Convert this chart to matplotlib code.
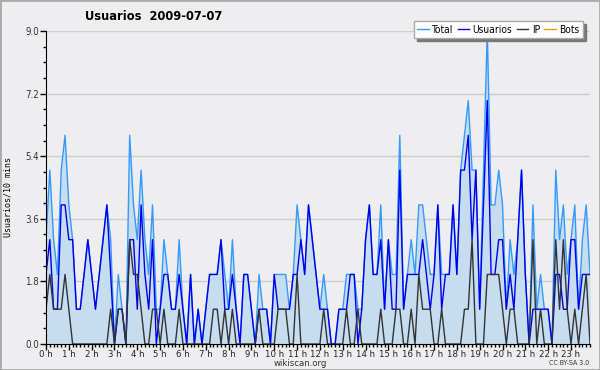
import numpy as np
import matplotlib.pyplot as plt
from matplotlib.patches import Rectangle
from matplotlib.ticker import MultipleLocator

plt.rcParams['font.family'] = 'DejaVu Sans'
plt.rcParams['font.stretch'] = 'condensed'

# valores cada 10 minutos (144 puntos)
total = [3, 5, 3, 2, 5, 6, 4, 3, 1, 1, 2, 3, 2, 1, 2, 3, 4, 3, 0, 2, 1, 0, 6, 4,
         3, 5, 3, 2, 4, 1, 1, 3, 2, 1, 1, 3, 1, 0, 2, 0, 1, 0, 1, 2, 2, 2, 3, 2,
         1, 3, 1, 0, 2, 2, 1, 0, 2, 1, 1, 0, 2, 2, 2, 2, 1, 2, 4, 3, 2, 4, 3, 2,
         1, 2, 1, 0, 0, 1, 1, 2, 2, 2, 1, 1, 3, 4, 2, 2, 4, 1, 3, 2, 2, 6, 1, 2,
         3, 2, 4, 4, 3, 2, 2, 4, 2, 2, 2, 4, 2, 5, 6, 7, 5, 5, 1, 5, 9, 4, 4, 5,
         4, 1, 3, 2, 3, 5, 2, 0, 4, 1, 2, 1, 1, 0, 5, 3, 4, 2, 3, 4, 1, 3, 4, 2]
usuarios = [2, 3, 1, 1, 4, 4, 3, 3, 1, 1, 2, 3, 2, 1, 2, 3, 4, 2, 0, 1, 1, 0, 3, 3,
            1, 4, 2, 1, 3, 0, 1, 2, 2, 1, 1, 2, 1, 0, 2, 0, 1, 0, 1, 2, 2, 2, 3, 1,
            1, 2, 1, 0, 2, 2, 1, 0, 1, 1, 1, 0, 2, 1, 1, 1, 1, 2, 2, 3, 2, 4, 3, 2,
            1, 1, 1, 0, 0, 1, 1, 1, 2, 2, 0, 1, 3, 4, 2, 2, 3, 1, 3, 1, 1, 5, 1, 2,
            2, 2, 2, 3, 2, 1, 2, 4, 1, 2, 2, 4, 2, 5, 5, 6, 3, 5, 1, 4, 7, 2, 2, 3,
            3, 1, 2, 1, 3, 5, 2, 0, 1, 1, 1, 1, 1, 0, 2, 2, 1, 1, 3, 3, 1, 2, 2, 2]
ip = [1, 2, 1, 1, 1, 2, 1, 0, 0, 0, 0, 0, 0, 0, 0, 0, 0, 1, 0, 1, 1, 0, 3, 2,
      2, 1, 0, 0, 1, 1, 0, 1, 0, 0, 0, 1, 0, 0, 0, 0, 0, 0, 0, 0, 1, 1, 0, 1,
      0, 1, 0, 0, 0, 0, 0, 0, 1, 0, 0, 0, 0, 1, 1, 1, 0, 0, 2, 0, 0, 0, 0, 0,
      0, 1, 0, 0, 0, 0, 0, 1, 0, 0, 1, 0, 0, 0, 0, 0, 1, 0, 0, 0, 1, 1, 0, 0,
      1, 0, 2, 1, 1, 1, 0, 0, 1, 0, 0, 0, 0, 0, 1, 1, 3, 0, 0, 0, 2, 2, 2, 2,
      1, 0, 1, 1, 0, 0, 0, 0, 3, 0, 1, 0, 0, 0, 3, 1, 3, 1, 0, 1, 0, 1, 2, 0]
bots = [0] * 144
hour_labels = ["%d h" % h for h in range(24)]
y_ticks = [0.0, 1.8, 3.6, 5.4, 7.2, 9.0]

bg = '#eeeef0'
x = np.arange(len(total)) / 6.0

fig = plt.figure(figsize=(6, 3.7), dpi=100, facecolor=bg)
ax = fig.add_axes([46 / 600, 26 / 370, 544 / 600, 313 / 370], facecolor=bg)

ax.fill_between(x, total, color='#c6dcef', lw=0, zorder=1)
ax.plot(x, bots, color='#ff9900', lw=1, zorder=0.5)
l_total, = ax.plot(x, total, color='#3399ff', lw=1, zorder=2, label='Total')
l_usu, = ax.plot(x, usuarios, color='#0000ee', lw=1, zorder=3, label='Usuarios')
l_ip, = ax.plot(x, ip, color='#333333', lw=1, zorder=4, label='IP')
l_bots, = ax.plot([], [], color='#ff9900', lw=1, label='Bots')

ax.set_xlim(0, x[-1])
ax.set_ylim(0, 9)
ax.set_xticks(range(24))
ax.set_xticklabels(hour_labels)
ax.xaxis.set_minor_locator(MultipleLocator(1 / 6))
ax.set_yticks(y_ticks)
ax.set_yticklabels(["%.1f" % v for v in y_ticks])
ax.yaxis.set_minor_locator(MultipleLocator(0.45))
ax.tick_params(axis='both', which='major', length=4, width=1, labelsize=7, colors='black')
ax.tick_params(axis='both', which='minor', length=2.5, width=1)
ax.tick_params(axis='y', labelcolor='#333333', pad=1)
ax.tick_params(axis='x', labelcolor='#222222', labelsize=6.8, pad=0)
ax.grid(axis='y', color='#cccccc', lw=1, zorder=0)
ax.set_axisbelow(True)
for s in ['top', 'right']:
    ax.spines[s].set_visible(False)
ax.spines['left'].set_zorder(5)
ax.spines['bottom'].set_zorder(5)

ax.set_ylabel("Usuarios/10 mins", family='DejaVu Sans Mono', fontsize=6)
ax.yaxis.set_label_coords(-0.062, 0.47)

fig.text(85 / 600, 1 - 17 / 370, "Usuarios  2009-07-07", fontsize=9.2, fontweight='bold',
         va='center', ha='left')
fig.text(0.5, 1 - 363 / 370, "wikiscan.org", fontsize=6.8, ha='center', va='center', color='#333333')
fig.text(589 / 600, 1 - 363 / 370, "CC BY-SA 3.0", fontsize=5, ha='right', va='center', color='#333333')

leg = fig.legend(handles=[l_total, l_usu, l_ip, l_bots], loc='upper right',
                 bbox_to_anchor=(588 / 600, 1 - 16 / 370), ncol=4, fontsize=7.3,
                 handlelength=1.1, handletextpad=0.35, columnspacing=0.45,
                 borderpad=0.35, fancybox=False, framealpha=1,
                 shadow={'color': '#777777', 'alpha': 1.0},
                 edgecolor='#aaaaaa')
leg.get_frame().set_linewidth(1)

fig.patches.append(Rectangle((0, 0), 1, 1, transform=fig.transFigure, fill=False,
                             edgecolor='#aaaaaa', lw=2))

fig.savefig("out.png", dpi=100, facecolor=bg)
